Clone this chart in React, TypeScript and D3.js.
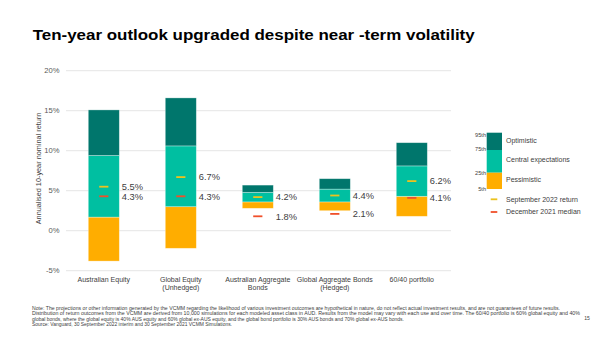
import React from "react";
import * as d3 from "d3";

const categories: string[][] = [
  ["Australian Equity"],
  ["Global Equity", "(Unhedged)"],
  ["Australian Aggregate", "Bonds"],
  ["Global Aggregate Bonds", "(Hedged)"],
  ["60/40 portfolio"],
];
const p5 = [-3.8, -2.2, 2.8, 2.5, 1.8];
const p25 = [1.7, 3.0, 3.6, 3.6, 4.3];
const p75 = [9.4, 10.6, 4.8, 5.2, 8.1];
const p95 = [15.1, 16.6, 5.7, 6.5, 11.0];
const sep2022 = [5.5, 6.7, 4.2, 4.4, 6.2];
const dec2021 = [4.3, 4.3, 1.8, 2.1, 4.1];
const yTicks = [-5, 0, 5, 10, 15, 20];

const legendBands = ["Optimistic", "Central expectations", "Pessimistic"];
const legendPct = ["95th", "75th", "25th", "5th"];
const legendMarkers = ["September 2022 return", "December 2021 median"];

const footnote = [
  "Note: The projections or other information generated by the VCMM regarding the likelihood of various investment outcomes are hypothetical in nature, do not reflect actual investment results, and are not guarantees of future results.",
  "Distribution of return outcomes from the VCMM are derived from 10,000 simulations for each modeled asset class in AUD. Results from the model may vary with each use and over time. The 60/40 portfolio is 60% global equity and 40%",
  "global bonds, where the global equity is 40% AUS equity and 60% global ex-AUS equity, and the global bond portfolio is 30% AUS bonds and 70% global ex-AUS bonds.",
  "Source: Vanguard, 30 September 2022 interim and 30 September 2021 VCMM Simulations.",
];
const footWidths = [528, 548, 372, 200];

const C_DARK = "#00766C";
const C_MID = "#00BFA1";
const C_ORANGE = "#FFAD00";
const C_YELLOW = "#EBC21E";
const C_RED = "#F0502A";
const FONT = "Liberation Sans, Arial, Helvetica, sans-serif";

export default function App() {
  const W = 602, H = 337;
  const x = d3
    .scaleBand<number>()
    .domain(categories.map((_, i) => i))
    .range([65.3, 450.3])
    .paddingInner(0.597)
    .paddingOuter(0.2985);
  const y = d3.scaleLinear().domain([-5, 20]).range([270.7, 70.7]);
  const bw = x.bandwidth();

  const fmt = (v: number) => d3.format(".1f")(v) + "%";

  return (
    <svg width={W} height={H} style={{ position: "absolute", left: 0, top: 0, background: "#fff" }} fontFamily={FONT}>
      <rect width={W} height={H} fill="#fff" />
      <text x={32.7} y={39.5} fontSize={14.5} fontWeight="bold" fill="#000" textLength={442} lengthAdjust="spacingAndGlyphs">
        Ten-year outlook upgraded despite near -term volatility
      </text>

      {yTicks.map((t) => (
        <g key={t}>
          <line x1={66} x2={451} y1={y(t)} y2={y(t)} stroke="#EAEAEA" strokeWidth={1.2} />
          <text x={59.5} y={y(t)} dy="0.35em" textAnchor="end" fontSize={7.6} fill="#595959">
            {t}%
          </text>
        </g>
      ))}

      <text
        transform={`translate(40.5,${168.5}) rotate(-90)`}
        textAnchor="middle"
        fontSize={7.3}
        fill="#404040"
      >
        Annualised 10-year nominal return
      </text>

      {categories.map((lines, i) => {
        const x0 = x(i)!;
        const cx = x0 + bw / 2;
        const segs = [
          { lo: p5[i], hi: p25[i], c: C_ORANGE },
          { lo: p25[i], hi: p75[i], c: C_MID },
          { lo: p75[i], hi: p95[i], c: C_DARK },
        ];
        return (
          <g key={i}>
            {segs.map((s, j) => (
              <rect
                key={j}
                x={x0}
                y={y(s.hi)}
                width={bw}
                height={y(s.lo) - y(s.hi)}
                fill={s.c}
                stroke="rgba(255,255,255,0.45)"
                strokeWidth={0.7}
              />
            ))}
            <line x1={cx - 4.6} x2={cx + 4.6} y1={y(sep2022[i])} y2={y(sep2022[i])} stroke={C_YELLOW} strokeWidth={1.8} />
            <line x1={cx - 4.6} x2={cx + 4.6} y1={y(dec2021[i])} y2={y(dec2021[i])} stroke={C_RED} strokeWidth={1.8} />
            <text x={x0 + bw + 2.5} y={y(sep2022[i])} dy="0.36em" fontSize={9.3} fill="#404040">
              {fmt(sep2022[i])}
            </text>
            <text x={x0 + bw + 2.5} y={y(dec2021[i])} dy="0.36em" fontSize={9.3} fill="#404040">
              {fmt(dec2021[i])}
            </text>
            {lines.map((l, k) => (
              <text key={k} x={cx} y={281.8 + k * 8} textAnchor="middle" fontSize={7} fill="#404040">
                {l}
              </text>
            ))}
          </g>
        );
      })}

      {/* Legend */}
      <g>
        <rect x={486.7} y={132.7} width={15.3} height={17.3} fill={C_DARK} />
        <rect x={486.7} y={150} width={15.3} height={22.7} fill={C_MID} />
        <rect x={486.7} y={172.7} width={15.3} height={16.3} fill={C_ORANGE} />
        {legendPct.map((p, i) => (
          <text key={p} x={486} y={[134.7, 149.3, 173.3, 189.3][i]} dy="0.35em" textAnchor="end" fontSize={5.6} fill="#404040">
            {p}
          </text>
        ))}
        {legendBands.map((b, i) => (
          <text key={b} x={506} y={[140.7, 160, 180][i]} dy="0.35em" fontSize={7} fill="#404040">
            {b}
          </text>
        ))}
        <line x1={490.7} x2={497.3} y1={199.3} y2={199.3} stroke={C_YELLOW} strokeWidth={1.8} />
        <line x1={490.7} x2={497.3} y1={212} y2={212} stroke={C_RED} strokeWidth={1.8} />
        {legendMarkers.map((m, i) => (
          <text key={m} x={506} y={[199.3, 212][i]} dy="0.35em" fontSize={7} fill="#404040">
            {m}
          </text>
        ))}
      </g>

      {footnote.map((f, i) => (
        <text key={i} x={32} y={310 + i * 5.4} fontSize={4.6} fill="#404040" textLength={footWidths[i]} lengthAdjust="spacingAndGlyphs">
          {f}
        </text>
      ))}
      <text x={587} y={320} textAnchor="middle" fontSize={5} fill="#404040">15</text>
    </svg>
  );
}
